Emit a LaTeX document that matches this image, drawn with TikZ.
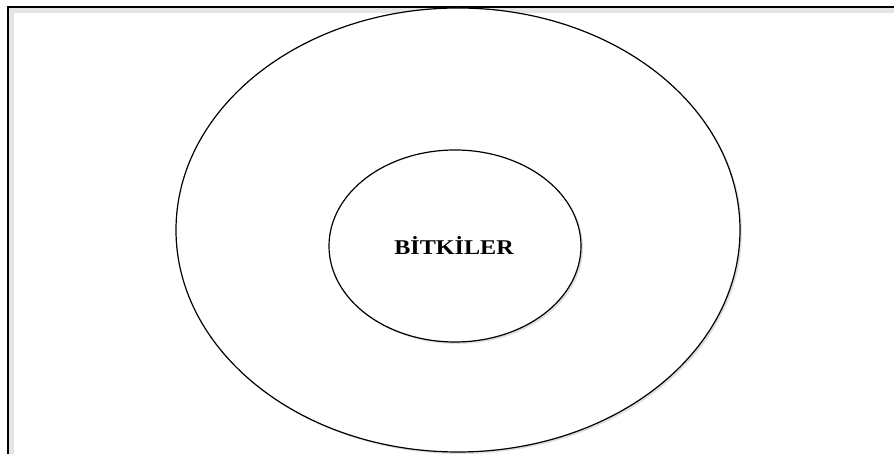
\documentclass[tikz,border=0pt]{standalone}
\usepackage{fontspec}
\setmainfont{Liberation Serif}
\usetikzlibrary{shadows,shapes.geometric}
\begin{document}
\begin{tikzpicture}[x=1pt,y=1pt,
  ring/.style={ellipse,draw=black,line width=1.2pt,fill=white,
    drop shadow={shadow xshift=2pt,shadow yshift=-2pt,opacity=0.25}},
  label/.style={font=\bfseries\fontsize{21}{25}\selectfont}]
\useasboundingbox (0,0) rectangle (894,454);
\fill[white] (0,0) rectangle (894,454);
% frame with inner shadow
\fill[black!10] (8,0) rectangle (894,447);
\fill[white] (14,0) rectangle (894,441);
\draw[line width=1.3pt] (8,0) -- (8,447) -- (894,447);
\node[ring,minimum width=564pt,minimum height=444pt,inner sep=0pt] (outer) at (458,224) {};
\node[ring,minimum width=252pt,minimum height=192pt,inner sep=0pt] (inner) at (455,208) {};
\node[label,xscale=1.15] (t) at (454,208) {BİTKİLER};
\end{tikzpicture}
\end{document}
